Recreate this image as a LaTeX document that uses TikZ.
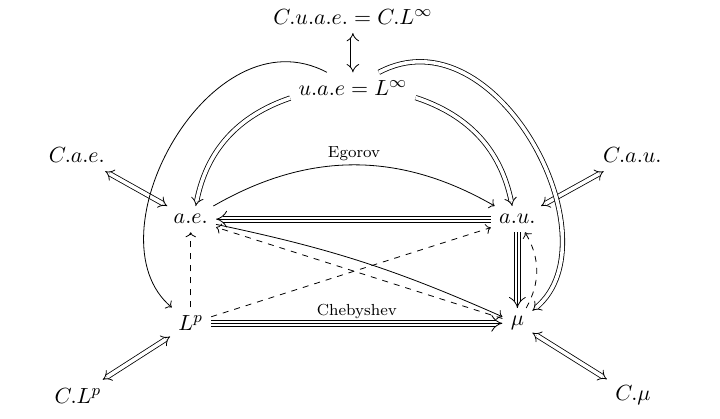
\documentclass[tikz,border=0pt]{standalone}
\usepackage{amsmath,amssymb}
\usetikzlibrary{arrows.meta}

\begin{document}
\begin{tikzpicture}[
		every node/.style={color=black, inner sep=4pt, font=\fontsize{10.95}{13.6}\selectfont},
		]
		\tikzset{
			dbl/.style={double, double distance=1.8pt, -Implies},
			dblBoth/.style={double, double distance=1.8pt, Implies-Implies},
			triple/.style={double, double distance=2.6pt, -Implies, postaction={draw, -, shorten >=1pt}},
			dashedArrow/.style={dashed, ->},
			plainArrow/.style={->},
			labelText/.style={font=\fontsize{8}{9.5}\selectfont, inner sep=2pt},
		}
		\useasboundingbox (0,0) rectangle (12.65,7.35);
		
		\node (cuae) at (6.2,7.05) {$C.u.a.e. = C.L^\infty$};
		\node (uae) at (6.2,5.80) {$u.a.e = L^\infty$};
		\node (cae) at (1.35,4.62) {$C.a.e.$};
		\node (cau) at (11.11,4.62) {$C.a.u.$};
		\node (ae) at (3.35,3.50) {$a.e.$};
		\node (au) at (9.09,3.50) {$a.u.$};
		\node (lp) at (3.35,1.67) {$L^p$};
		\node (mu) at (9.09,1.67) {$\mu$};
		\node (clp) at (1.37,0.40) {$C.L^p$};
		\node (cmu) at (11.12,0.40) {$C.\mu$};
		
		% equivalences
		\draw[dblBoth] (cuae) -- (uae);
		\draw[dblBoth] (cae) -- (ae);
		\draw[dblBoth] (cau) -- (au);
		\draw[dblBoth] (clp) -- (lp);
		\draw[dblBoth] (cmu) -- (mu);
		
		% from u.a.e
		\draw[dbl] (uae) to[bend right=30] (ae);
		\draw[dbl] (uae) to[bend left=30] (au);
		\draw[plainArrow] ([xshift=-13pt]uae.north) to[out=152,in=140,out looseness=1.2,in looseness=1] (lp);
		\draw[dbl] ([xshift=13pt]uae.north) to[out=28,in=40,out looseness=1.2,in looseness=1] (mu);
		
		% the square
		\draw[plainArrow] (ae) to[bend left=30] node[labelText, above] {Egorov} (au);
		\draw[triple] (au) -- (ae);
		\draw[triple] (au) -- (mu);
		\draw[triple] (lp) -- node[labelText, above] {Chebyshev} (mu);
		\draw[plainArrow] (ae) to[bend left=6] (mu);
		
		\draw[dashedArrow] (lp) -- (ae);
		\draw[dashedArrow] (lp) -- (au);
		\draw[dashedArrow] (mu) -- (ae);
		\draw[dashedArrow] (mu) to[bend right=30] (au);
	\end{tikzpicture}
\end{document}
